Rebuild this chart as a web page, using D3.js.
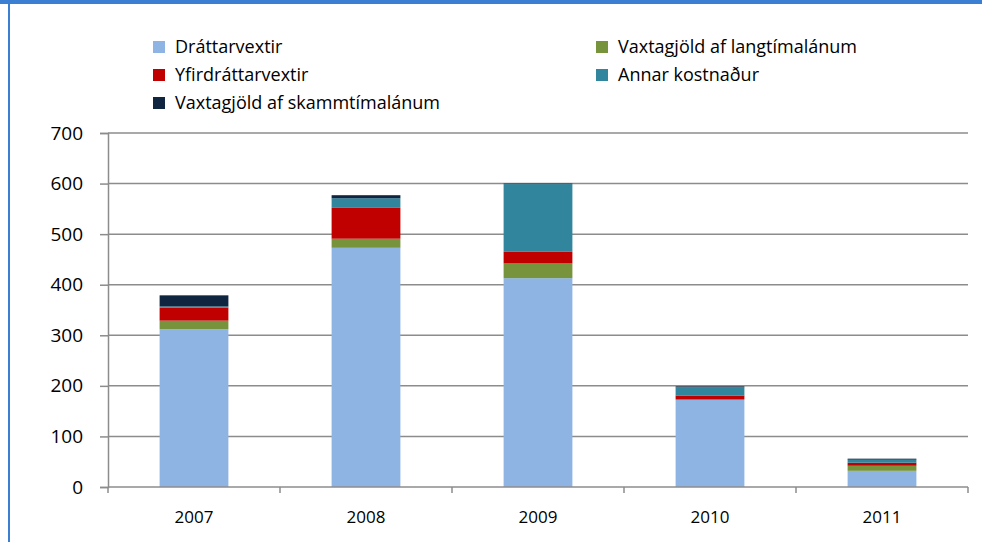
<!DOCTYPE html>
<html>
<head>
<meta charset="utf-8">
<script src="https://cdn.jsdelivr.net/npm/d3@7"></script>
<style>
  body { margin: 0; background: #fff; }
  svg { display: block; font-family: "Open Sans", "Noto Sans", sans-serif; }
</style>
</head>
<body>
<div id="chart"></div>
<script>
// years on the x axis
var years = ["2007", "2008", "2009", "2010", "2011"];

// series, bottom of stack first
var seriesNames = ["Dráttarvextir", "Vaxtagjöld af langtímalánum", "Yfirdráttarvextir",
                   "Annar kostnaður", "Vaxtagjöld af skammtímalánum"];
var seriesColors = ["#8EB4E3", "#77933C", "#C00000", "#31859C", "#10253F"];

// values
var drattarvextir = [312, 473, 413, 172, 32];
var langtimalan   = [17, 18, 29, 2, 10];
var yfirdrattur   = [26, 61, 23, 7, 6];
var annar         = [2, 19, 134, 16, 6];
var skammtimalan  = [22, 6, 1, 2, 2];

var yTicks = [0, 100, 200, 300, 400, 500, 600, 700];

var width = 982, height = 542,
    margin = {top: 133, right: 14, bottom: 55, left: 108};

var svg = d3.select("#chart").append("svg")
    .attr("width", width)
    .attr("height", height);

// frame: blue strip on top, blue line on the left
svg.append("rect").attr("x", 0).attr("y", 0).attr("width", width).attr("height", 4).attr("fill", "#3A7FD1");
svg.append("rect").attr("x", 8).attr("y", 0).attr("width", 2).attr("height", height).attr("fill", "#3A7FD1");

// build rows for the stack
var rows = years.map(function(y, i) {
  return {year: y, s0: drattarvextir[i], s1: langtimalan[i], s2: yfirdrattur[i], s3: annar[i], s4: skammtimalan[i]};
});
var stack = d3.stack().keys(["s0", "s1", "s2", "s3", "s4"])(rows);

var x = d3.scaleBand()
    .domain(years)
    .range([margin.left, width - margin.right])
    .paddingInner(0.6)
    .paddingOuter(0.3);

var y = d3.scaleLinear()
    .domain([0, 700])
    .range([height - margin.bottom, margin.top]);

// gridlines
svg.append("g").selectAll("line")
  .data(yTicks.slice(1))
  .enter().append("line")
    .attr("x1", margin.left).attr("x2", width - margin.right)
    .attr("y1", function(d) { return y(d); }).attr("y2", function(d) { return y(d); })
    .attr("stroke", "#8C8C8C").attr("stroke-width", 1.5);

// bars
svg.append("g").selectAll("g")
  .data(stack)
  .enter().append("g")
    .attr("fill", function(d, i) { return seriesColors[i]; })
  .selectAll("rect")
  .data(function(d) { return d; })
  .enter().append("rect")
    .attr("x", function(d) { return x(d.data.year); })
    .attr("width", x.bandwidth())
    .attr("y", function(d) { return y(d[1]); })
    .attr("height", function(d) { return y(d[0]) - y(d[1]); });

// y axis
var yAxis = svg.append("g")
    .attr("transform", "translate(" + margin.left + ",0)")
    .call(d3.axisLeft(y).tickValues(yTicks).tickSize(8).tickPadding(17));
yAxis.attr("font-family", null).attr("font-size", null);
yAxis.select(".domain").attr("stroke", "#8C8C8C").attr("stroke-width", 1.5);
yAxis.selectAll(".tick line").attr("stroke", "#8C8C8C").attr("stroke-width", 1.5);
yAxis.selectAll("text").attr("fill", "#000")
    .style("font-size", "19px");

// x axis: line with ticks at category borders
var xa = svg.append("g");
var step = (width - margin.right - margin.left) / years.length;
xa.append("line")
    .attr("x1", margin.left).attr("x2", width - margin.right)
    .attr("y1", y(0)).attr("y2", y(0))
    .attr("stroke", "#8C8C8C").attr("stroke-width", 1.5);
xa.selectAll("line.tk")
  .data(d3.range(years.length + 1))
  .enter().append("line")
    .attr("class", "tk")
    .attr("x1", function(d) { return margin.left + d * step; })
    .attr("x2", function(d) { return margin.left + d * step; })
    .attr("y1", y(0)).attr("y2", y(0) + 6)
    .attr("stroke", "#8C8C8C").attr("stroke-width", 1.5);
xa.selectAll("text")
  .data(years)
  .enter().append("text")
    .attr("x", function(d) { return x(d) + x.bandwidth() / 2; })
    .attr("y", y(0) + 36)
    .attr("text-anchor", "middle")
    .style("font-size", "17px")
    .text(function(d) { return d; });

// legend, two columns filled row by row
var legend = svg.append("g").selectAll("g")
  .data(seriesNames)
  .enter().append("g")
    .attr("transform", function(d, i) {
      var col = i % 2, row = Math.floor(i / 2);
      return "translate(" + (col ? 596 : 153) + "," + (47 + row * 28) + ")";
    });
legend.append("rect")
    .attr("x", 0).attr("y", -6).attr("width", 12).attr("height", 12)
    .attr("fill", function(d, i) { return seriesColors[i]; });
legend.append("text")
    .attr("x", 22).attr("y", 0).attr("dy", "0.35em")
    .style("font-size", "18px")
    .text(function(d) { return d; });
</script>
</body>
</html>
